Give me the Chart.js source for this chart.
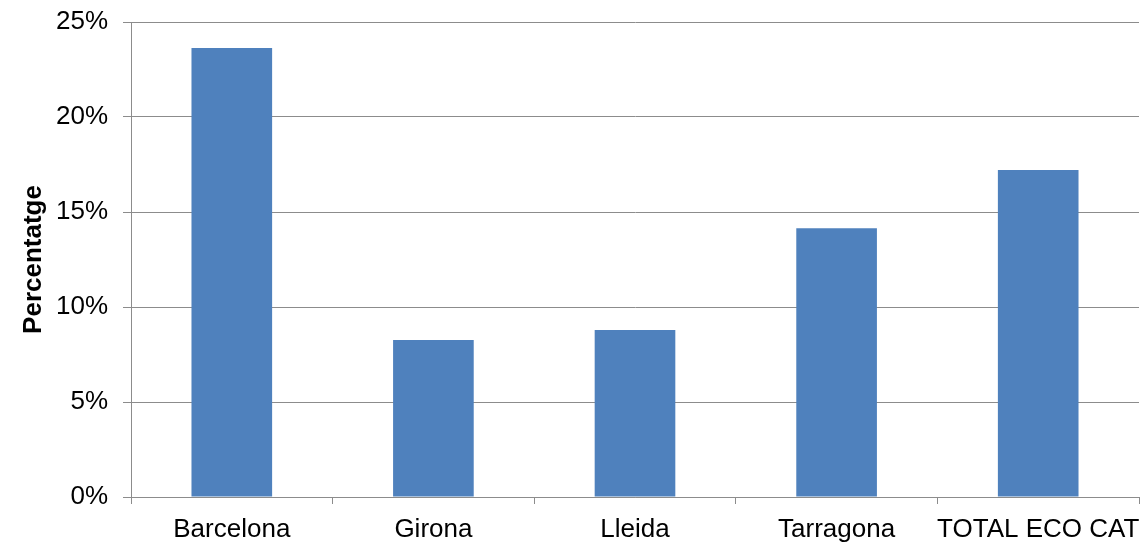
<!DOCTYPE html>
<html>
<head>
<meta charset="utf-8">
<script src="https://cdn.jsdelivr.net/npm/chart.js@4/dist/chart.umd.min.js"></script>
<style>
html,body{margin:0;padding:0;background:#fff;}
#c{display:block;}
</style>
</head>
<body>
<canvas id="c" width="1143" height="547"></canvas>
<script>
const categories = ['Barcelona', 'Girona', 'Lleida', 'Tarragona', 'TOTAL ECO CAT'];
const percentValues = [0.2363, 0.0826, 0.0879, 0.1414, 0.1721];
const yTickValues = [0, 0.05, 0.10, 0.15, 0.20, 0.25];
const yTitle = 'Percentatge';

const gridColor = '#8c8c8c';
const fontFamily = '"Liberation Sans", Arial, sans-serif';

new Chart(document.getElementById('c'), {
  type: 'bar',
  data: {
    labels: categories,
    datasets: [{
      data: percentValues,
      backgroundColor: '#4f81bd',
      borderWidth: 0,
      barPercentage: 0.4,
      categoryPercentage: 1.0
    }]
  },
  options: {
    responsive: false,
    devicePixelRatio: 1,
    animation: false,
    layout: { padding: { top: 22, right: 4, left: 0, bottom: 0 } },
    plugins: { legend: { display: false }, tooltip: { enabled: false } },
    scales: {
      x: {
        grid: { offset: true, drawOnChartArea: false, drawTicks: true, tickLength: 7, color: gridColor, lineWidth: 1 },
        border: { display: true, color: gridColor, width: 1 },
        ticks: { color: '#000', font: { family: fontFamily, size: 26 }, padding: 10, maxRotation: 0, autoSkip: false },
        afterFit: (s) => { s.height = 50; s.paddingLeft = 0; s.paddingRight = 0; }
      },
      y: {
        min: 0,
        max: 0.25,
        afterBuildTicks: (s) => { s.ticks = yTickValues.map(v => ({ value: v })); },
        grid: { color: gridColor, lineWidth: 1, tickLength: 8, drawTicks: true },
        border: { display: true, color: gridColor, width: 1 },
        ticks: {
          color: '#000',
          font: { family: fontFamily, size: 26 },
          padding: 15,
          callback: (v) => Math.round(v * 100) + '%'
        },
        title: {
          display: true,
          text: yTitle,
          color: '#000',
          font: { family: fontFamily, size: 26, weight: 'bold' },
          padding: { top: 18, bottom: 0 }
        },
        afterFit: (s) => { s.width = 131; s.paddingTop = 0; s.paddingBottom = 0; }
      }
    }
  }
});
</script>
</body>
</html>
